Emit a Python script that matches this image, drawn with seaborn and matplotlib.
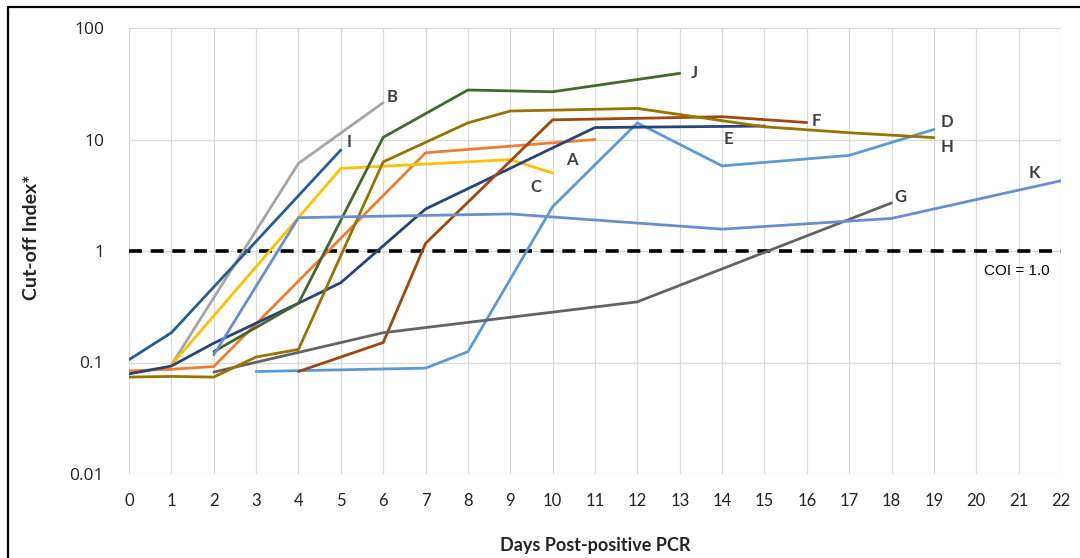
import numpy as np
import pandas as pd
import matplotlib
matplotlib.use("Agg")
import matplotlib.pyplot as plt
from matplotlib.lines import Line2D
import seaborn as sns

# ---------------- data ----------------
days_A = [0, 1, 2, 7, 11]
coi_A = [0.084, 0.087, 0.092, 7.6, 10.0]
days_B = [1, 4, 6]
coi_B = [0.095, 6.1, 21.4]
days_C = [1, 5, 9, 10]
coi_C = [0.095, 5.5, 6.6, 5.0]
days_D = [3, 7, 8, 10, 12, 14, 17, 19]
coi_D = [0.083, 0.089, 0.125, 2.5, 14.1, 5.8, 7.2, 12.3]
days_E = [0, 1, 2, 4, 5, 7, 11, 15]
coi_E = [0.079, 0.093, 0.149, 0.34, 0.52, 2.38, 12.8, 13.2]
days_F = [4, 6, 7, 10, 14, 16]
coi_F = [0.083, 0.151, 1.17, 15.0, 16.0, 14.2]
days_G = [2, 6, 12, 18]
coi_G = [0.082, 0.185, 0.35, 2.7]
days_H = [0, 1, 2, 3, 4, 6, 8, 9, 12, 15, 17, 19]
coi_H = [0.074, 0.075, 0.074, 0.112, 0.131, 6.3, 14.1, 18.0, 19.0, 13.0, 11.5, 10.4]
days_I = [0, 1, 5]
coi_I = [0.106, 0.185, 8.05]
days_J = [2, 4, 6, 8, 10, 13]
coi_J = [0.125, 0.34, 10.45, 27.8, 26.8, 39.2]
days_K = [2, 4, 9, 14, 18, 22]
coi_K = [0.117, 1.99, 2.15, 1.57, 1.96, 4.27]

series_names = ["A", "B", "C", "D", "E", "F", "G", "H", "I", "J", "K"]
series_days = [days_A, days_B, days_C, days_D, days_E, days_F, days_G, days_H, days_I, days_J, days_K]
series_coi = [coi_A, coi_B, coi_C, coi_D, coi_E, coi_F, coi_G, coi_H, coi_I, coi_J, coi_K]
series_colors = ["#ED7D31", "#A5A5A5", "#FFC000", "#5B9BD5", "#264478", "#9E480E",
                 "#636363", "#997300", "#255E91", "#43682B", "#698ED0"]

# label anchor positions (day, value)
label_x = [10.46, 6.21, 9.61, 19.31, 14.16, 16.22, 18.2, 19.31, 5.19, 13.34, 21.36]
label_y = [6.55, 24.0, 3.75, 14.4, 10.1, 14.7, 3.05, 8.58, 9.5, 39.5, 5.0]

x_ticks = list(range(0, 23))
y_ticks = [0.01, 0.1, 1, 10, 100]
y_tick_labels = ["0.01", "0.1", "1", "10", "100"]
coi_threshold = 1.0

# ---------------- figure ----------------
sns.set_style("white")
plt.rcParams["font.family"] = ["Lato", "DejaVu Sans"]

fig = plt.figure(figsize=(10.8, 5.58), dpi=100)
ax = fig.add_axes([129 / 1080, 1 - 474 / 558, (1061 - 129) / 1080, (474 - 28) / 558])

df = pd.concat(
    [pd.DataFrame({"day": d, "coi": c, "sample": n})
     for n, d, c in zip(series_names, series_days, series_coi)],
    ignore_index=True,
)
palette = dict(zip(series_names, series_colors))

ax.set_yscale("log")
sns.lineplot(data=df, x="day", y="coi", hue="sample", palette=palette,
             estimator=None, sort=False, legend=False, linewidth=2.0, ax=ax)

ax.axhline(coi_threshold, color="black", lw=2.6, ls=(0, (3.6, 2.4)), zorder=1)

ax.set_xlim(0, 22)
ax.set_ylim(0.01, 100)
ax.set_xticks(x_ticks)
ax.set_xticklabels([str(t) for t in x_ticks], fontsize=12, color="#222222")
ax.set_yticks(y_ticks)
ax.set_yticklabels(y_tick_labels, fontsize=12.5, color="#222222", family=["Open Sans", "DejaVu Sans"])
ax.yaxis.set_minor_locator(matplotlib.ticker.NullLocator())
ax.tick_params(axis="x", length=0, pad=14)
ax.tick_params(axis="y", length=0, pad=18)
ax.grid(True, which="major", color="#D9D9D9", lw=0.9)
ax.set_axisbelow(True)
for s in ax.spines.values():
    s.set_visible(False)

ax.set_xlabel("Days Post-positive PCR", fontsize=13, fontweight="bold", color="#222222", labelpad=20)
ax.set_ylabel("Cut-off Index*", fontsize=14, fontweight="bold", color="#222222", labelpad=14)
ax.yaxis.set_label_coords(-0.095, 0.53)

for n, lx, ly in zip(series_names, label_x, label_y):
    ax.text(lx, ly, n, fontsize=12, fontweight="bold", color="#404040",
            ha="center", va="center")

ax.text(20.96, 0.66, "COI = 1.0", fontsize=11, color="black", ha="center", va="center",
        family=["Liberation Sans", "DejaVu Sans"])

# outer frame (top and left edges visible)
fig.add_artist(Line2D([8 / 1080, 1.0], [1 - 7 / 558, 1 - 7 / 558], transform=fig.transFigure,
                      color="black", lw=1.6))
fig.add_artist(Line2D([8 / 1080, 8 / 1080], [0.0, 1 - 7 / 558], transform=fig.transFigure,
                      color="black", lw=1.6))

fig.savefig("out.png", dpi=100)
